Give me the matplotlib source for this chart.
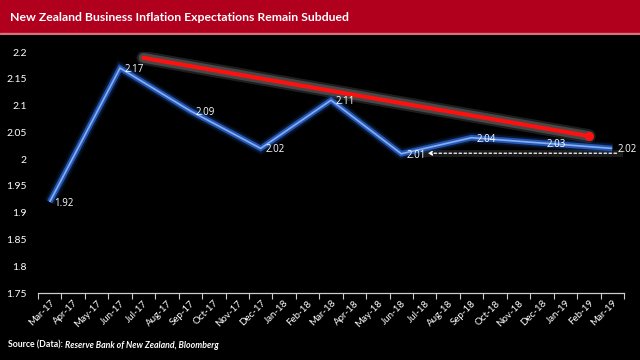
import numpy as np
import matplotlib
matplotlib.use("Agg")
import matplotlib.pyplot as plt

months = ["Mar-17","Apr-17","May-17","Jun-17","Jul-17","Aug-17","Sep-17","Oct-17","Nov-17",
          "Dec-17","Jan-18","Feb-18","Mar-18","Apr-18","May-18","Jun-18","Jul-18","Aug-18",
          "Sep-18","Oct-18","Nov-18","Dec-18","Jan-19","Feb-19","Mar-19"]
quarters = ["Mar-17","Jun-17","Sep-17","Dec-17","Mar-18","Jun-18","Sep-18","Dec-18","Mar-19"]
values = [1.92, 2.17, 2.09, 2.02, 2.11, 2.01, 2.04, 2.03, 2.02]
trend_x = ["Jul-17", "Feb-19"]
trend_y = [2.189, 2.043]
support_x = ["Jul-18", "Mar-19"]
support_y = [2.011, 2.011]
yticks = [1.75, 1.8, 1.85, 1.9, 1.95, 2.0, 2.05, 2.1, 2.15, 2.2]

fam = ["Lato", "DejaVu Sans"]
fam2 = ["Open Sans", "DejaVu Sans"]
fig = plt.figure(figsize=(6.4, 3.6), dpi=100, facecolor="black")

# title bar
bar = fig.add_axes([0, 1 - 35/360, 1, 35/360])
bar.set_xlim(0, 1); bar.set_ylim(0, 1); bar.axis("off")
bar.add_patch(plt.Rectangle((0, 0), 1, 1, color="#B0001E"))
bar.add_patch(plt.Rectangle((0, 0), 1, 0.05, color="#D9707A"))
bar.text(0.016, 0.5, "New Zealand Business Inflation Expectations Remain Subdued",
         color="white", fontsize=8.8, fontweight="bold", family=fam, va="center", ha="left")

ax = fig.add_axes([38/640, 1 - 293/360, (624-38)/640, (293-52)/360], facecolor="black")
ax.set_xlim(-0.5, len(months) - 0.5)
ax.set_ylim(1.75, 2.2)

idx = {m: i for i, m in enumerate(months)}
qx = [idx[q] for q in quarters]

# glow layers for blue line
for lw, a, c in [(9, 0.12, "#1a3c80"), (6.5, 0.25, "#1e4fa8"), (4, 1.0, "#2458b8"), (1.2, 0.85, "#9dbdf5")]:
    ax.plot(qx, values, color=c, lw=lw, alpha=a, solid_joinstyle="miter", solid_capstyle="butt", zorder=3)

for x, v in zip(qx, values):
    ax.annotate(f"{v:.2f}", (x, v), xytext=(3.5, -1), textcoords="offset points",
                color="white", fontsize=7, family=fam2, ha="left", va="center", zorder=5)

# red trend line with glow
tx = [idx[t] for t in trend_x]
for lw, a in [(10, 0.18), (7, 0.3)]:
    ax.plot(tx, trend_y, color="#aaaaaa", lw=lw, alpha=a, solid_capstyle="round", zorder=2)
ax.plot(tx, trend_y, color="#ff1010", lw=3, solid_capstyle="round", zorder=4)
ax.plot(tx[1], trend_y[1], marker="o", color="#ff1010", ms=5.5, zorder=4)

# dotted support arrow
sx = [idx[s] for s in support_x]
ax.plot([sx[0], sx[1] + 0.3], support_y, color="#888888", lw=5, alpha=0.2, zorder=2)
ax.annotate("", xy=(sx[0], support_y[0]), xytext=(sx[1] + 0.3, support_y[1]),
            arrowprops=dict(arrowstyle="-|>", color="white", lw=0.9, ls=(0, (2, 2)),
                            mutation_scale=6), zorder=4)

ax.set_yticks(yticks)
ax.set_yticklabels([f"{t:g}" for t in yticks], color="white", fontsize=7.5, family=fam)
ax.set_xticks(range(len(months)))
ax.set_xticklabels(months, rotation=45, ha="right", rotation_mode="anchor",
                   color="white", fontsize=7, family=fam)
ax.set_xticks(np.arange(-0.5, len(months), 1), minor=True)
ax.tick_params(axis="x", which="major", length=0, pad=4)
ax.tick_params(axis="x", which="minor", length=4, color="#cccccc", width=0.8)
ax.tick_params(axis="y", length=0, pad=8)
for s in ["top", "right", "left"]:
    ax.spines[s].set_visible(False)
ax.spines["bottom"].set_color("#cccccc")
ax.spines["bottom"].set_linewidth(0.9)

fig.text(8/640, 1 - 345/360, "Source (Data): ", color="white", fontsize=6.3,
         fontweight="bold", family=fam, va="center")
fig.text(65/640, 1 - 345/360, "Reserve Bank of New Zealand, Bloomberg", color="white",
         fontsize=6.3, fontweight="bold", style="italic", family=fam, va="center")

fig.savefig("out.png", dpi=100, facecolor="black")
